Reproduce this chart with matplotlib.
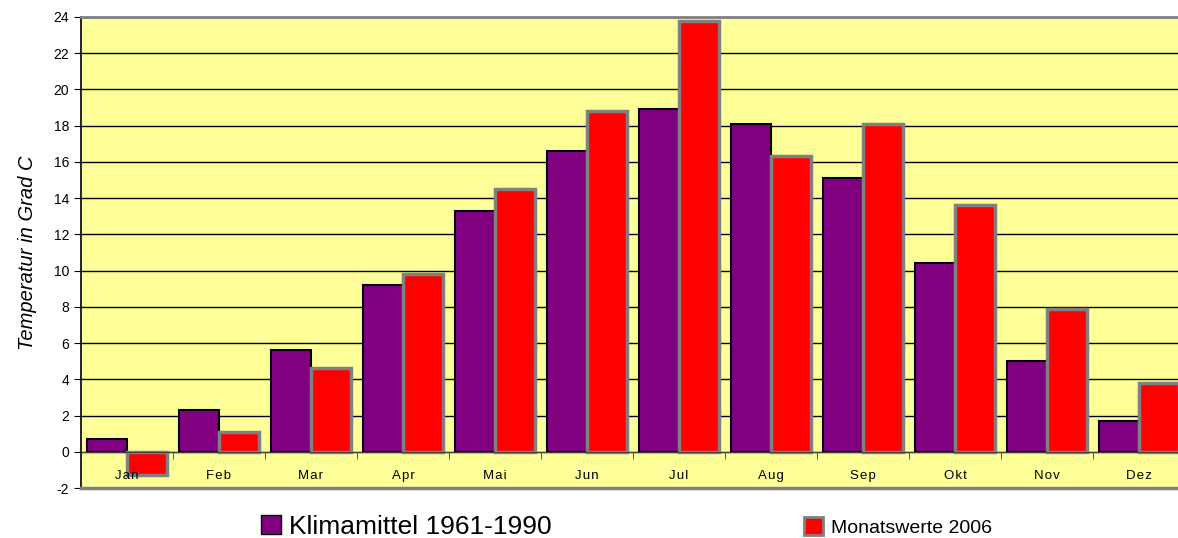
import numpy as np
import matplotlib
matplotlib.use('Agg')
import matplotlib.pyplot as plt
from matplotlib.patches import Patch

plt.rcParams['font.family'] = ['Liberation Sans', 'DejaVu Sans']
plt.rcParams['axes.unicode_minus'] = False

# data
months = ['Jan', 'Feb', 'Mar', 'Apr', 'Mai', 'Jun', 'Jul', 'Aug', 'Sep', 'Okt', 'Nov', 'Dez']
klimamittel = [0.7, 2.3, 5.6, 9.2, 13.3, 16.6, 18.9, 18.1, 15.1, 10.4, 5.0, 1.7]
monatswerte = [-1.3, 1.1, 4.6, 9.8, 14.5, 18.8, 23.8, 16.3, 18.1, 13.6, 7.9, 3.8]
yticks = list(range(-2, 25, 2))

fig = plt.figure(figsize=(11.78, 5.38), dpi=100)
# plot area is cut off at the right edge in the original
ax = fig.add_axes([81 / 1178, 1 - 488 / 538, 1104 / 1178, 471 / 538])
ax.set_facecolor('#FFFF99')

x = np.arange(len(months))
w = 0.435
ax.bar(x - w / 2, klimamittel, w, color='#800080', edgecolor='black', linewidth=1.5, zorder=3)
ax.bar(x + w / 2, monatswerte, w, color='#FF0000', edgecolor='#808080', linewidth=2.5, zorder=3)

ax.set_xlim(-0.5, len(months) - 0.5)
ax.set_ylim(-2, 24)
ax.set_yticks(yticks)
ax.tick_params(axis='y', labelsize=10, length=5, direction='out', color='black')
ax.yaxis.grid(True, color='black', linewidth=1)
ax.set_axisbelow(True)

# x axis line at zero with ticks between categories
ax.spines['bottom'].set_position(('data', 0))
ax.spines['bottom'].set_color('#404040')
ax.spines['bottom'].set_zorder(4)
ax.set_xticks(x)
ax.set_xticklabels(['\u200a'.join(m) for m in months], fontsize=9.5)
ax.set_xticks(x[:-1] + 0.5, minor=True)
ax.tick_params(axis='x', which='major', length=0, pad=13)
ax.tick_params(axis='x', which='minor', length=5, direction='out', color='#404040')
ax.xaxis.set_zorder(5)  # month labels drawn over the bars (Jan)
ax.axhline(-2, color='#808080', linewidth=2.5, clip_on=False, zorder=5)

ax.spines['top'].set_color('#808080')
ax.spines['top'].set_linewidth(2)
ax.spines['right'].set_visible(False)
ax.spines['left'].set_color('black')
ax.spines['left'].set_linewidth(1.2)

ax.set_ylabel('Temperatur in Grad C', fontsize=14.5, style='italic', labelpad=12)

# two legend entries with different sizes, as in the original
leg1 = fig.legend(handles=[Patch(facecolor='#800080', edgecolor='black')],
                  labels=['Klimamittel 1961-1990'], fontsize=19, frameon=False,
                  loc='center left', bbox_to_anchor=(248 / 1178, 1 - 527 / 538),
                  handlelength=0.75, handleheight=0.75, handletextpad=0.3, borderpad=0)
leg2 = fig.legend(handles=[Patch(facecolor='#FF0000', edgecolor='#808080', linewidth=2)],
                  labels=['Monatswerte 2006'], fontsize=14, frameon=False,
                  loc='center left', bbox_to_anchor=(794 / 1178, 1 - 527 / 538),
                  handlelength=1.0, handleheight=1.0, handletextpad=0.4, borderpad=0)

plt.savefig('out.png', dpi=100)
